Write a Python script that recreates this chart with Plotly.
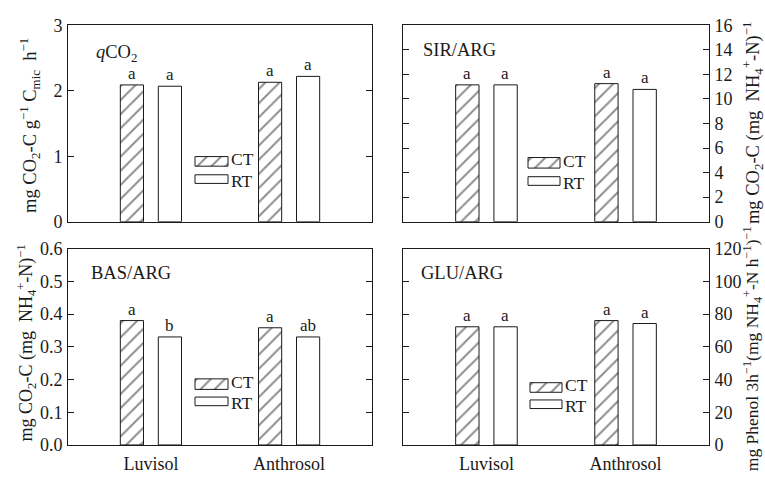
import plotly.graph_objects as go

# ---- data -------------------------------------------------------------
soils = ["Luvisol", "Anthrosol"]
treatments = ["CT", "RT"]

qco2_ct = [2.09, 2.13]
qco2_rt = [2.07, 2.22]
qco2_sig_ct = ["a", "a"]
qco2_sig_rt = ["a", "a"]

sir_ct = [11.15, 11.25]
sir_rt = [11.15, 10.78]
sir_sig_ct = ["a", "a"]
sir_sig_rt = ["a", "a"]

bas_ct = [0.38, 0.358]
bas_rt = [0.33, 0.33]
bas_sig_ct = ["a", "a"]
bas_sig_rt = ["b", "ab"]

glu_ct = [72.2, 76.0]
glu_rt = [72.2, 74.2]
glu_sig_ct = ["a", "a"]
glu_sig_rt = ["a", "a"]

panel_names = ["<i>q</i>CO<sub>2</sub>", "SIR/ARG", "BAS/ARG", "GLU/ARG"]
y_ranges = [[0, 3], [0, 16], [0, 0.6], [0, 120]]
y_dticks = [1, 2, 0.1, 20]
y_formats = ["d", "d", ".1f", "d"]
y_titles = [
    "mg CO<sub>2</sub>-C g<sup>\u22121</sup> C<sub>mic</sub>  h<sup>\u22121</sup>",
    "mg CO<sub>2</sub>-C (mg  NH<sub>4</sub><sup>+</sup>-N)<sup>\u22121</sup>",
    "mg CO<sub>2</sub>-C (mg  NH<sub>4</sub><sup>+</sup>-N)<sup>\u22121</sup>",
    "mg Phenol 3h<sup>\u22121</sup>(mg NH<sub>4</sub><sup>+</sup>-N h<sup>\u22121</sup>)<sup>\u22121</sup>",
]

panels = [
    (qco2_ct, qco2_rt, qco2_sig_ct, qco2_sig_rt),
    (sir_ct, sir_rt, sir_sig_ct, sir_sig_rt),
    (bas_ct, bas_rt, bas_sig_ct, bas_sig_rt),
    (glu_ct, glu_rt, glu_sig_ct, glu_sig_rt),
]

# ---- page geometry (pixels) --------------------------------------------
W, H = 765, 477
FONT = "Liberation Serif"
INK = "#1a1a1a"

# panel frames: (left, right, top, bottom) in px
frames = [
    (68, 372, 16, 221),
    (403, 709, 16, 221),
    (68, 372, 249, 454),
    (403, 709, 249, 454),
]
label_side = ["left", "right", "left", "right"]
show_xlabels = [False, False, True, True]
name_pos = [(94, 45), (421, 42), (89, 274), (419, 275)]
title_pos = [(30, 121), (752, 118), (26, 348), (752, 354)]
title_sizes = [18.5, 18.5, 18, 17.5]

# legend swatches: (left, right, top_ct, bottom_ct, top_rt, bottom_rt)
legend_boxes = [
    (195, 228, 153, 163, 172, 181),
    (528, 560, 154, 165, 174, 183),
    (195, 228, 385, 396, 404, 413),
    (530, 562, 389, 399, 407, 416),
]

hatch = dict(shape="/", fgcolor=INK, bgcolor="white", size=10, solidity=0.2)

fig = go.Figure()
layout = dict(
    width=W, height=H,
    margin=dict(l=0, r=0, t=0, b=0),
    paper_bgcolor="white", plot_bgcolor="rgba(0,0,0,0)",
    font=dict(family=FONT, size=18, color=INK),
    showlegend=False,
    barmode="group", bargap=0.45, bargroupgap=0.39,
)
annotations = []

for i, (ct, rt, sct, srt) in enumerate(panels):
    n = "" if i == 0 else str(i + 1)
    xa, ya = "x" + n, "y" + n
    l, r, t, b = frames[i]
    fig.add_trace(go.Bar(
        x=soils, y=ct, name=treatments[0], xaxis=xa, yaxis=ya,
        marker=dict(color="white", pattern=hatch, line=dict(color=INK, width=1)),
        offsetgroup="CT",
    ))
    fig.add_trace(go.Bar(
        x=soils, y=rt, name=treatments[1], xaxis=xa, yaxis=ya,
        marker=dict(color="white", line=dict(color=INK, width=1)),
        offsetgroup="RT",
    ))
    layout["xaxis" + n] = dict(
        domain=[l / W, r / W], anchor=ya, type="category",
        range=[-0.6, 1.6], showline=True, linecolor=INK, linewidth=1,
        mirror=True, ticks="", showgrid=False, zeroline=False,
        showticklabels=show_xlabels[i], tickfont=dict(size=18),
        ticklabelstandoff=2,
    )
    layout["yaxis" + n] = dict(
        domain=[1 - b / H, 1 - t / H], anchor=xa, side=label_side[i],
        range=y_ranges[i], dtick=y_dticks[i], tick0=0, tickformat=y_formats[i],
        showline=True, linecolor=INK, linewidth=1, mirror="allticks",
        ticks="inside", ticklen=6, tickcolor=INK, showgrid=False,
        zeroline=False, tickfont=dict(size=18), ticklabelstandoff=1,
    )
    # significance letters above bars
    for j, soil in enumerate(soils):
        for vals, sig, shift in ((ct, sct, -0.5), (rt, srt, 0.5)):
            annotations.append(dict(
                x=soil, y=vals[j], xref=xa, yref=ya, text=sig[j],
                showarrow=False, yanchor="bottom", yshift=0,
                xshift=shift * 38, font=dict(size=17),
            ))
    # panel name
    nx, ny = name_pos[i]
    annotations.append(dict(
        x=nx / W, y=1 - ny / H, xref="paper", yref="paper", text=panel_names[i],
        showarrow=False, xanchor="left", yanchor="middle", font=dict(size=18.5),
    ))
    # y axis title
    tx, ty = title_pos[i]
    annotations.append(dict(
        x=tx / W, y=1 - ty / H, xref="paper", yref="paper", text=y_titles[i],
        showarrow=False, textangle=-90, xanchor="center", yanchor="middle",
        font=dict(size=title_sizes[i]),
    ))

# legend swatches drawn on a pixel-space overlay axis
layout["xaxis5"] = dict(domain=[0, 1], range=[0, W], anchor="y5", visible=False,
                        fixedrange=True)
layout["yaxis5"] = dict(domain=[0, 1], range=[H, 0], anchor="x5", visible=False,
                        fixedrange=True)
for (l, r, t1, b1, t2, b2) in legend_boxes:
    fig.add_trace(go.Scatter(
        x=[l, r, r, l, l], y=[t1, t1, b1, b1, t1], xaxis="x5", yaxis="y5",
        mode="lines", fill="toself", fillcolor="white",
        fillpattern=dict(shape="/", fgcolor=INK, bgcolor="white", size=10,
                         solidity=0.2),
        line=dict(color=INK, width=1), hoverinfo="skip",
    ))
    fig.add_trace(go.Scatter(
        x=[l, r, r, l, l], y=[t2, t2, b2, b2, t2], xaxis="x5", yaxis="y5",
        mode="lines", fill="toself", fillcolor="white",
        line=dict(color=INK, width=1), hoverinfo="skip",
    ))
    # CT label sits just above its swatch centre, RT just below
    for lbl, yt, yb, anchor, nudge in ((treatments[0], t1, b1, "bottom", 9),
                                       (treatments[1], t2, b2, "top", -9)):
        annotations.append(dict(
            x=(r + 2) / W, y=1 - (yt + yb) / 2 / H, xref="paper", yref="paper",
            text=lbl, showarrow=False, xanchor="left", yanchor=anchor,
            yshift=-nudge, borderpad=0, font=dict(size=17.5),
        ))

layout["annotations"] = annotations
fig.update_layout(**layout)
fig.write_html("out.html")
